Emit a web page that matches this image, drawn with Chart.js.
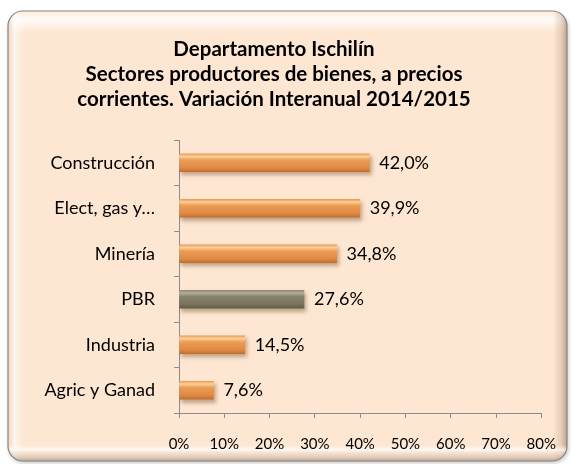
<!DOCTYPE html>
<html>
<head>
<meta charset="utf-8">
<script src="https://cdn.jsdelivr.net/npm/chart.js@4/dist/chart.umd.min.js"></script>
<style>
  html, body { margin: 0; padding: 0; background: #fff; }
  #wrap { width: 573px; height: 464px; }
</style>
</head>
<body>
<div id="wrap"><canvas id="chart" width="573" height="464"></canvas></div>
<script>
// data
const sectors = ["Construcción", "Elect, gas y…", "Minería", "PBR", "Industria", "Agric y Ganad"];
const variation = [0.420, 0.399, 0.348, 0.276, 0.145, 0.076];
const totalLabel = "PBR";
const titleLines = [
  "Departamento Ischilín",
  "Sectores productores de bienes, a precios",
  "corrientes. Variación Interanual 2014/2015"
];

const fmtPct = (v, dec) => (v * 100).toFixed(dec).replace(".", ",") + "%";

// soft 3D-ish gradient per bar, built from the category scale
function barFill(c) {
  const isTotal = sectors[c.dataIndex] === totalLabel;
  const base = isTotal ? "#7c7862" : "#e38f4c";
  const yScale = c.chart.scales.y;
  if (!yScale || !c.chart.chartArea) return base;
  const cy = yScale.getPixelForValue(c.dataIndex);
  const g = c.chart.ctx.createLinearGradient(0, cy - 9, 0, cy + 9);
  if (isTotal) {
    g.addColorStop(0, "#8d8973");
    g.addColorStop(0.15, "#b3ae98");
    g.addColorStop(0.35, "#86826c");
    g.addColorStop(0.8, "#75715b");
    g.addColorStop(1, "#5e5a47");
  } else {
    g.addColorStop(0, "#eb9a58");
    g.addColorStop(0.15, "#fbd197");
    g.addColorStop(0.35, "#ec9c55");
    g.addColorStop(0.8, "#de8943");
    g.addColorStop(1, "#c06d31");
  }
  return g;
}

// rounded beveled frame behind the chart
const framePlugin = {
  id: "frame",
  beforeDraw(chart) {
    const ctx = chart.ctx;
    const x = 8, y = 11, w = 559, h = 450, r = 15;
    const path = () => {
      ctx.beginPath();
      ctx.roundRect(x, y, w, h, r);
    };
    ctx.save();
    ctx.shadowColor = "rgba(0,0,0,0.25)";
    ctx.shadowBlur = 4;
    ctx.shadowOffsetX = 1;
    ctx.shadowOffsetY = 2;
    path();
    ctx.fillStyle = "#fde6d2";
    ctx.fill();
    ctx.restore();

    ctx.save();
    path();
    ctx.clip();
    // top highlight
    let g = ctx.createLinearGradient(0, y, 0, y + 22);
    g.addColorStop(0, "rgba(255,255,255,0.2)");
    g.addColorStop(0.4, "rgba(255,255,255,0.85)");
    g.addColorStop(1, "rgba(255,255,255,0)");
    ctx.fillStyle = g;
    ctx.fillRect(x, y, w, 22);
    // left highlight
    g = ctx.createLinearGradient(x, 0, x + 16, 0);
    g.addColorStop(0, "rgba(230,200,175,0.6)");
    g.addColorStop(0.4, "rgba(255,255,255,0.6)");
    g.addColorStop(1, "rgba(255,255,255,0)");
    ctx.fillStyle = g;
    ctx.fillRect(x, y, 16, h);
    // right shade
    g = ctx.createLinearGradient(x + w - 14, 0, x + w, 0);
    g.addColorStop(0, "rgba(200,170,145,0)");
    g.addColorStop(0.6, "rgba(200,170,145,0.45)");
    g.addColorStop(1, "rgba(150,130,115,0.7)");
    ctx.fillStyle = g;
    ctx.fillRect(x + w - 14, y, 14, h);
    // bottom shade
    g = ctx.createLinearGradient(0, y + h - 16, 0, y + h);
    g.addColorStop(0, "rgba(255,255,255,0)");
    g.addColorStop(0.3, "rgba(255,255,255,0.7)");
    g.addColorStop(0.7, "rgba(215,190,170,0.5)");
    g.addColorStop(1, "rgba(160,140,125,0.7)");
    ctx.fillStyle = g;
    ctx.fillRect(x, y + h - 16, w, 16);
    ctx.restore();

    ctx.save();
    path();
    ctx.lineWidth = 1.2;
    ctx.strokeStyle = "#8a8580";
    ctx.stroke();
    ctx.restore();
  }
};

// drop shadow under the bars
const barShadow = {
  id: "barShadow",
  beforeDatasetsDraw(chart) {
    const ctx = chart.ctx;
    ctx.save();
    ctx.shadowColor = "rgba(120,80,40,0.45)";
    ctx.shadowBlur = 4;
    ctx.shadowOffsetX = 2;
    ctx.shadowOffsetY = 3;
  },
  afterDatasetsDraw(chart) {
    chart.ctx.restore();
  }
};

// value labels to the right of each bar
const valueLabels = {
  id: "valueLabels",
  afterDatasetsDraw(chart) {
    const ctx = chart.ctx;
    const meta = chart.getDatasetMeta(0);
    ctx.save();
    ctx.font = "18px Lato";
    ctx.fillStyle = "#000";
    ctx.textBaseline = "middle";
    ctx.textAlign = "left";
    meta.data.forEach((bar, i) => {
      ctx.fillText(fmtPct(variation[i], 1), bar.x + 10, bar.y);
    });
    ctx.restore();
  }
};

new Chart(document.getElementById("chart"), {
  type: "bar",
  data: {
    labels: sectors,
    datasets: [{
      data: variation,
      backgroundColor: barFill,
      borderWidth: 0,
      barThickness: 18
    }]
  },
  plugins: [framePlugin, barShadow, valueLabels],
  options: {
    indexAxis: "y",
    responsive: false,
    animation: false,
    devicePixelRatio: 1,
    layout: { padding: { left: 0, top: 0, right: 25, bottom: 0 } },
    plugins: {
      legend: { display: false },
      tooltip: { enabled: false },
      title: {
        display: true,
        text: titleLines,
        color: "#000",
        font: { family: "Lato", size: 20.5, weight: "bold", lineHeight: 1.22 },
        padding: { top: 37, bottom: 28 }
      }
    },
    scales: {
      x: {
        min: 0,
        max: 0.8,
        ticks: {
          stepSize: 0.1,
          color: "#000",
          font: { family: "Lato", size: 15 },
          padding: 17,
          callback: v => Math.round(v * 100) + "%"
        },
        grid: {
          display: true,
          drawOnChartArea: false,
          drawTicks: true,
          tickLength: 5,
          color: "#8c8c8c"
        },
        border: { display: true, color: "#8c8c8c", width: 1 },
        afterFit: s => { s.height = 51; }
      },
      y: {
        offset: true,
        ticks: {
          color: "#000",
          font: { family: "Lato", size: 18 },
          padding: 19
        },
        grid: {
          display: true,
          offset: true,
          drawOnChartArea: false,
          drawTicks: true,
          tickLength: 5,
          color: "#8c8c8c"
        },
        border: { display: true, color: "#8c8c8c", width: 1 },
        afterFit: s => { s.width = 179; }
      }
    }
  }
});
</script>
</body>
</html>
